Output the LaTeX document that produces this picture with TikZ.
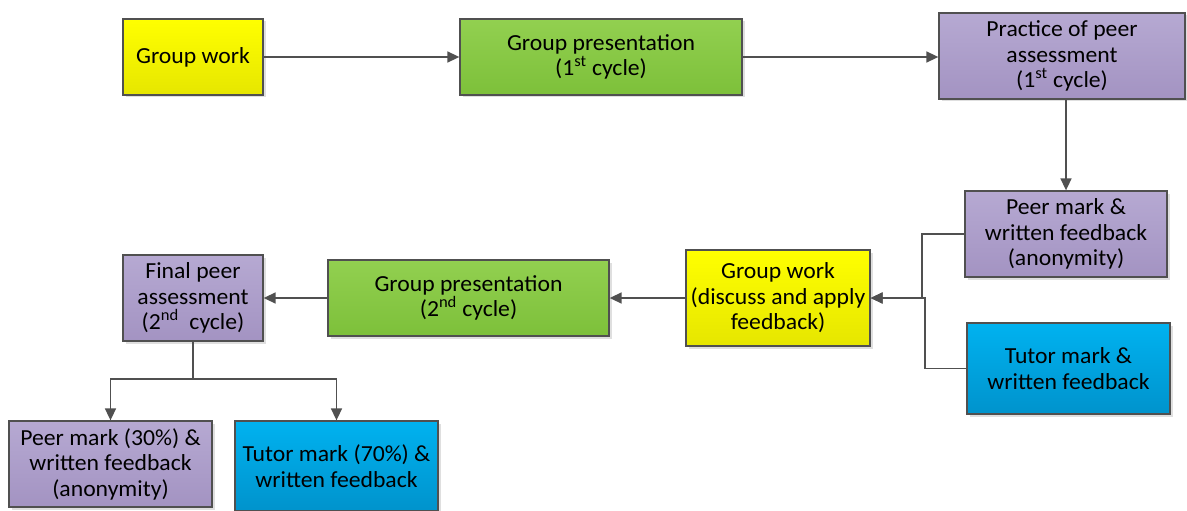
\documentclass[tikz,border=0pt]{standalone}
\usepackage{fontspec}
\setmainfont{Carlito}[FakeStretch=1.03]
\usetikzlibrary{arrows.meta,shadows}
\definecolor{yelT}{HTML}{FFFF00}\definecolor{yelB}{HTML}{E6E600}
\definecolor{grnT}{HTML}{92D050}\definecolor{grnB}{HTML}{7DC03A}
\definecolor{purT}{HTML}{B6A9D2}\definecolor{purB}{HTML}{A393C2}
\definecolor{bluT}{HTML}{00B2F0}\definecolor{bluB}{HTML}{0093CC}
\definecolor{edge}{HTML}{505050}
\tikzset{
  box/.style={draw=edge, line width=1.3pt, align=center, inner sep=2pt,
    font=\fontsize{23}{25.5}\selectfont,
    drop shadow={shadow xshift=2.5pt, shadow yshift=-2.5pt, opacity=0.25, fill=gray}},
  yel/.style={box, top color=yelT, bottom color=yelB},
  grn/.style={box, top color=grnT, bottom color=grnB},
  pur/.style={box, top color=purT, bottom color=purB},
  blu/.style={box, top color=bluT, bottom color=bluB},
  conn/.style={draw=edge, line width=1.6pt},
  arr/.style={conn, -{Triangle[length=12pt,width=11pt]}}
}
\begin{document}
\begin{tikzpicture}[x=1pt,y=-1pt]
\useasboundingbox (0,0) rectangle (1187,511);
\node[yel, minimum width=140pt, minimum height=76pt] (n1) at (193,57) {Group work};
\node[grn, minimum width=282pt, minimum height=76pt] (n2) at (601,57) {Group presentation\\(1\textsuperscript{st} cycle)};
\node[pur, minimum width=246pt, minimum height=86pt] (n3) at (1062,56) {Practice of peer\\assessment\\(1\textsuperscript{st} cycle)};
\node[pur, minimum width=202pt, minimum height=86pt] (n4) at (1066,234) {Peer mark \&\\written feedback\\(anonymity)};
\node[blu, minimum width=203pt, minimum height=91pt] (n5) at (1068.5,368.5) {Tutor mark \&\\written feedback};
\node[yel, minimum width=184pt, minimum height=96pt] (n6) at (778,298) {Group work\\(discuss and apply\\feedback)};
\node[grn, minimum width=281pt, minimum height=76pt] (n7) at (468.5,298) {Group presentation\\(2\textsuperscript{nd} cycle)};
\node[pur, minimum width=140pt, minimum height=86pt] (n8) at (193,298) {Final peer\\assessment\\(2\textsuperscript{nd}\ \ cycle)};
\node[pur, minimum width=203pt, minimum height=86pt] (n9) at (110.5,464) {Peer mark (30\%) \&\\written feedback\\(anonymity)};
\node[blu, minimum width=203pt, minimum height=90pt] (n10) at (336.5,466) {Tutor mark (70\%) \&\\written feedback};
\coordinate (j1) at (922,298);
\coordinate (j2) at (925,298);
\coordinate (b) at (193,379);
\draw[arr] (n1.east) -- (n1.east -| n2.west);
\draw[arr] (n2.east) -- (n2.east -| n3.west);
\draw[arr] (n3.south -| n4.north) -- (n4.north);
\draw[arr] (n4.west) -| (j1) -- (n6.east);
\draw[arr] (n5.west) -| (j2) -- (n6.east);
\draw[arr] (n6.west) -- (n7.east);
\draw[arr] (n7.west) -- (n8.east);
\draw[conn] (n8.south) -- (b);
\draw[arr] (b) -| (n9.north);
\draw[arr] (b) -| (n10.north);
\end{tikzpicture}
\end{document}
